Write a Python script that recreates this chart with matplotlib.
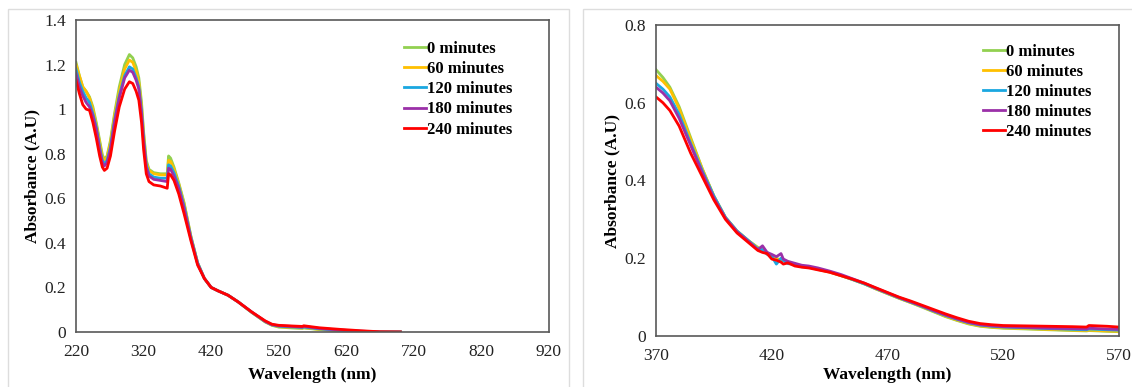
import matplotlib
matplotlib.use("Agg")
import matplotlib.pyplot as plt
from matplotlib.patches import Rectangle
from matplotlib.ticker import FuncFormatter

plt.rcParams["font.family"] = ["Liberation Serif", "DejaVu Serif"]

labels = ["0 minutes", "60 minutes", "120 minutes", "180 minutes", "240 minutes"]
colors = ["#92D050", "#FFC000", "#1AA7E0", "#9B30A8", "#FF0000"]

# left panel: full spectrum 220-700 nm
wl_full = [220, 225, 230, 235, 240, 245, 250, 255, 259, 262, 266, 271, 277, 284,
           292, 299, 304, 309, 313, 317, 320, 324, 328, 335, 345, 355, 357, 360,
           365, 372, 380, 390, 400, 410, 420, 430, 445, 460, 480, 500, 510, 520,
           540, 555, 557, 580, 610, 640, 670, 700]
abs_full_0 = [1.21, 1.15, 1.10, 1.08, 1.055, 1.01, 0.94, 0.86, 0.795, 0.775, 0.79, 0.86, 0.98, 1.10,
              1.20, 1.245, 1.23, 1.19, 1.14, 1.03, 0.90, 0.77, 0.73, 0.715, 0.71, 0.71, 0.79, 0.78,
              0.74, 0.67, 0.58, 0.43, 0.31, 0.24, 0.20, 0.185, 0.165, 0.135, 0.088, 0.045, 0.030, 0.022,
              0.018, 0.016, 0.018, 0.011, 0.005, 0.001, 0.0, 0.0]
abs_full_60 = [1.20, 1.15, 1.10, 1.08, 1.05, 1.00, 0.93, 0.85, 0.785, 0.77, 0.785, 0.85, 0.97, 1.08,
               1.18, 1.22, 1.21, 1.17, 1.12, 1.01, 0.89, 0.76, 0.725, 0.71, 0.705, 0.705, 0.77, 0.765,
               0.73, 0.665, 0.575, 0.43, 0.31, 0.24, 0.20, 0.185, 0.165, 0.135, 0.088, 0.046, 0.031, 0.024,
               0.02, 0.018, 0.02, 0.012, 0.006, 0.002, 0.0, 0.0]
abs_full_120 = [1.18, 1.12, 1.08, 1.05, 1.03, 0.98, 0.92, 0.83, 0.77, 0.755, 0.77, 0.83, 0.95, 1.06,
                1.15, 1.19, 1.18, 1.14, 1.10, 0.99, 0.87, 0.75, 0.71, 0.695, 0.69, 0.69, 0.75, 0.745,
                0.715, 0.655, 0.565, 0.425, 0.31, 0.24, 0.20, 0.185, 0.165, 0.135, 0.089, 0.047, 0.032, 0.026,
                0.022, 0.02, 0.022, 0.014, 0.007, 0.003, 0.0, 0.0]
abs_full_180 = [1.16, 1.10, 1.06, 1.03, 1.01, 0.97, 0.91, 0.82, 0.76, 0.745, 0.76, 0.82, 0.94, 1.05,
                1.14, 1.175, 1.165, 1.13, 1.09, 0.98, 0.86, 0.74, 0.70, 0.685, 0.68, 0.675, 0.735, 0.73,
                0.70, 0.645, 0.555, 0.42, 0.305, 0.24, 0.20, 0.185, 0.165, 0.135, 0.09, 0.048, 0.033, 0.028,
                0.025, 0.022, 0.025, 0.016, 0.009, 0.004, 0.0, 0.0]
abs_full_240 = [1.13, 1.07, 1.02, 1.00, 0.995, 0.94, 0.87, 0.79, 0.74, 0.725, 0.735, 0.79, 0.90, 1.01,
                1.09, 1.123, 1.115, 1.08, 1.04, 0.94, 0.82, 0.71, 0.675, 0.66, 0.655, 0.645, 0.71, 0.705,
                0.68, 0.62, 0.53, 0.41, 0.30, 0.24, 0.20, 0.185, 0.165, 0.135, 0.09, 0.05, 0.035, 0.03,
                0.027, 0.025, 0.028, 0.019, 0.012, 0.006, 0.001, 0.0]

# right panel: zoom 370-570 nm
wl_zoom = [370, 373, 376, 380, 385, 390, 395, 400, 405, 410, 414, 416, 418, 420, 422,
           424, 425, 427, 430, 433, 436, 440, 445, 450, 455, 460, 465, 470, 475, 480,
           485, 490, 495, 500, 505, 510, 515, 520, 530, 540, 550, 556, 557, 565, 570]
abs_zoom_0 = [0.685, 0.665, 0.64, 0.59, 0.51, 0.43, 0.36, 0.305, 0.27, 0.245, 0.228, 0.222, 0.215, 0.205, 0.20,
              0.195, 0.196, 0.19, 0.185, 0.18, 0.178, 0.172, 0.165, 0.155, 0.145, 0.134, 0.121, 0.109, 0.097, 0.086,
              0.074, 0.062, 0.05, 0.04, 0.031, 0.025, 0.022, 0.02, 0.018, 0.016, 0.014, 0.013, 0.014, 0.012, 0.011]
abs_zoom_60 = [0.67, 0.655, 0.635, 0.585, 0.505, 0.43, 0.36, 0.305, 0.27, 0.245, 0.226, 0.22, 0.214, 0.203, 0.198,
               0.193, 0.195, 0.189, 0.184, 0.179, 0.177, 0.171, 0.164, 0.155, 0.145, 0.134, 0.121, 0.109, 0.097, 0.086,
               0.075, 0.063, 0.051, 0.041, 0.032, 0.026, 0.023, 0.021, 0.019, 0.017, 0.015, 0.014, 0.015, 0.013, 0.012]
abs_zoom_120 = [0.65, 0.635, 0.615, 0.57, 0.495, 0.425, 0.36, 0.305, 0.27, 0.245, 0.224, 0.222, 0.21, 0.205, 0.185,
                0.2, 0.194, 0.186, 0.185, 0.178, 0.177, 0.172, 0.165, 0.156, 0.145, 0.134, 0.122, 0.11, 0.098, 0.087,
                0.076, 0.064, 0.053, 0.043, 0.034, 0.028, 0.025, 0.023, 0.021, 0.019, 0.017, 0.016, 0.018, 0.016, 0.015]
abs_zoom_180 = [0.64, 0.625, 0.605, 0.56, 0.49, 0.42, 0.355, 0.303, 0.268, 0.243, 0.222, 0.232, 0.215, 0.21, 0.204,
                0.212, 0.198, 0.192, 0.187, 0.182, 0.18, 0.175, 0.167, 0.158, 0.147, 0.136, 0.123, 0.111, 0.099, 0.088,
                0.077, 0.065, 0.054, 0.044, 0.035, 0.029, 0.026, 0.024, 0.022, 0.02, 0.019, 0.018, 0.02, 0.018, 0.017]
abs_zoom_240 = [0.615, 0.60, 0.58, 0.54, 0.47, 0.41, 0.35, 0.30, 0.265, 0.24, 0.22, 0.215, 0.212, 0.198, 0.195,
                0.19, 0.185, 0.188, 0.18, 0.177, 0.175, 0.17, 0.164, 0.155, 0.146, 0.136, 0.124, 0.112, 0.1, 0.09,
                0.079, 0.068, 0.057, 0.047, 0.038, 0.032, 0.029, 0.027, 0.026, 0.025, 0.024, 0.023, 0.027, 0.025, 0.023]

full_series = [abs_full_0, abs_full_60, abs_full_120, abs_full_180, abs_full_240]
zoom_series = [abs_zoom_0, abs_zoom_60, abs_zoom_120, abs_zoom_180, abs_zoom_240]

fig = plt.figure(figsize=(11.32, 3.87), dpi=100)

# light panel frames like the pasted Excel charts
fig.patches.append(Rectangle((8 / 1132, -0.05), 561 / 1132, 1.05 - 9 / 387, transform=fig.transFigure,
                             fill=False, edgecolor="#dddddd", linewidth=1))
fig.patches.append(Rectangle((583 / 1132, -0.05), 560 / 1132, 1.05 - 9 / 387, transform=fig.transFigure,
                             fill=False, edgecolor="#dddddd", linewidth=1))

ax1 = fig.add_axes([76 / 1132, 1 - 332 / 387, 473 / 1132, 312 / 387])
ax2 = fig.add_axes([656 / 1132, 1 - 336 / 387, 463 / 1132, 311 / 387])

for y, c, lab in zip(full_series, colors, labels):
    ax1.plot(wl_full, y, color=c, linewidth=2, label=lab)
for y, c, lab in zip(zoom_series, colors, labels):
    ax2.plot(wl_zoom, y, color=c, linewidth=2, label=lab)

fmt = FuncFormatter(lambda v, p: "%g" % round(v, 2))

ax1.set_xlim(220, 920)
ax1.set_ylim(0, 1.4)
ax1.set_xticks(range(220, 921, 100))
ax1.set_yticks([0, 0.2, 0.4, 0.6, 0.8, 1.0, 1.2, 1.4])

ax2.set_xlim(370, 570)
ax2.set_ylim(0, 0.8)
ax2.set_xticks(range(370, 571, 50))
ax2.set_yticks([0, 0.2, 0.4, 0.6, 0.8])

for ax, lx, ly, xpad in ((ax1, 0.693, 0.933, 5), (ax2, 0.706, 0.94, 2)):
    ax.yaxis.set_major_formatter(fmt)
    ax.tick_params(length=0, labelsize=12.5, colors="#222222")
    ax.tick_params(axis="x", pad=9)
    ax.tick_params(axis="y", pad=7)
    for s in ax.spines.values():
        s.set_color("#595959")
        s.set_linewidth(1.2)
    ax.set_xlabel("Wavelength (nm)", fontsize=12.5, fontweight="bold", labelpad=xpad)
    ax.set_ylabel("Absorbance (A.U)", fontsize=12.5, fontweight="bold", labelpad=3)
    ax.legend(loc="upper left", bbox_to_anchor=(lx, ly), frameon=False,
              prop={"weight": "bold", "size": 12}, handlelength=1.35,
              handletextpad=0.05, labelspacing=0.25, borderaxespad=0, borderpad=0)

fig.savefig("out.png", dpi=100)
